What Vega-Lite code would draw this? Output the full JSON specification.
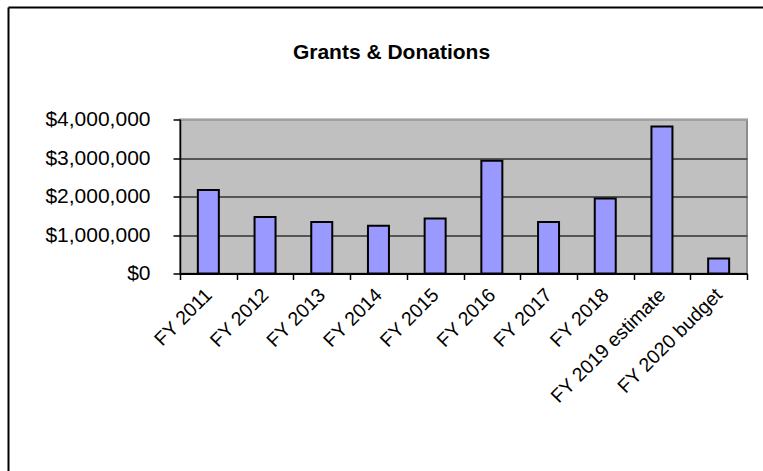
{
  "$schema": "https://vega.github.io/schema/vega-lite/v6.json",
  "width": 567,
  "height": 154,
  "autosize": "none",
  "padding": {"left": 180, "top": 119.5, "right": 16, "bottom": 197.5},
  "background": "white",
  "view": {"fill": "#C0C0C0", "stroke": "#8c8c8c", "strokeWidth": 2},
  "title": {
    "text": "Grants & Donations",
    "font": "Liberation Sans",
    "fontSize": 21,
    "fontWeight": "bold",
    "color": "black",
    "anchor": "middle",
    "dx": -72,
    "offset": -56
  },
  "data": {
    "values": [
      {"year": "FY 2011", "amount": 2170000},
      {"year": "FY 2012", "amount": 1470000},
      {"year": "FY 2013", "amount": 1340000},
      {"year": "FY 2014", "amount": 1240000},
      {"year": "FY 2015", "amount": 1430000},
      {"year": "FY 2016", "amount": 2930000},
      {"year": "FY 2017", "amount": 1340000},
      {"year": "FY 2018", "amount": 1950000},
      {"year": "FY 2019 estimate", "amount": 3820000},
      {"year": "FY 2020 budget", "amount": 390000}
    ]
  },
  "layer": [
    {
      "mark": {"type": "bar", "fill": "#9999FF", "stroke": "black", "strokeWidth": 2, "size": 21},
      "encoding": {
        "x": {
          "field": "year",
          "type": "nominal",
          "sort": null,
          "scale": {"paddingInner": 0, "paddingOuter": 0},
          "axis": {
            "title": null,
            "grid": false,
            "tickBand": "extent",
            "labelAngle": -45,
            "labelAlign": "right",
            "labelBaseline": "middle",
            "labelFont": "Liberation Sans",
            "labelFontSize": 19.5,
            "labelColor": "black",
            "labelPadding": 12,
            "labelOverlap": false,
            "tickSize": 6,
            "tickColor": "black",
            "tickWidth": 1.5,
            "domainColor": "black",
            "domainWidth": 2
          }
        },
        "y": {
          "field": "amount",
          "type": "quantitative",
          "scale": {"domain": [0, 4000000]},
          "axis": {
            "title": null,
            "values": [0, 1000000, 2000000, 3000000, 4000000],
            "format": "$,.0f",
            "labelFont": "Liberation Sans",
            "labelFontSize": 21,
            "labelColor": "black",
            "labelPadding": 23,
            "tickSize": 7,
            "tickColor": "black",
            "tickWidth": 1.5,
            "domainColor": "black",
            "domainWidth": 1.5,
            "grid": true,
            "gridColor": {"condition": {"test": "datum.value === 4000000", "value": "#a0a0a0"}, "value": "#555555"},
            "gridWidth": 2,
            "gridOpacity": 1
          }
        }
      }
    },
    {
      "data": {"values": [{"f": 0}]},
      "mark": {"type": "point", "opacity": 0},
      "encoding": {
        "x": {
          "field": "f",
          "type": "quantitative",
          "scale": {"domain": [0, 1], "range": [-172, 583]},
          "axis": {"orient": "top", "offset": 112.5, "title": null, "labels": false, "ticks": false, "grid": false, "domainColor": "black", "domainWidth": 2}
        },
        "y": {
          "field": "f",
          "type": "quantitative",
          "scale": {"domain": [0, 1], "range": [360, -112.5]},
          "axis": {"orient": "left", "offset": 172, "title": null, "labels": false, "ticks": false, "grid": false, "domainColor": "black", "domainWidth": 2}
        }
      }
    }
  ],
  "resolve": {"scale": {"x": "independent", "y": "independent"}}
}
